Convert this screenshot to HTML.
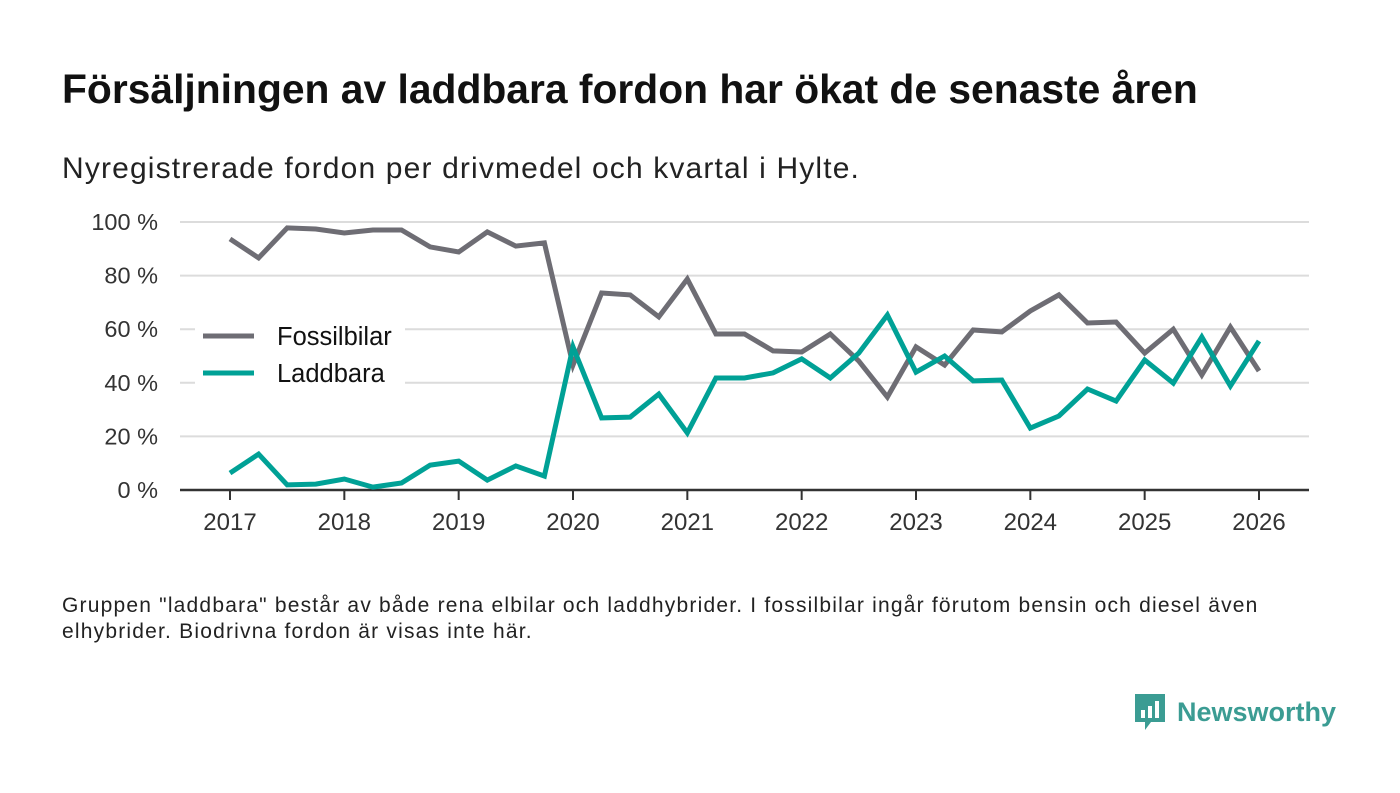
<!DOCTYPE html>
<html><head><meta charset="utf-8">
<style>
body{margin:0;background:#fff;font-family:"Liberation Sans","DejaVu Sans",sans-serif;}
#wrap{position:relative;width:1400px;height:793px;overflow:hidden;}
h1{position:absolute;left:62px;top:66px;margin:0;font-size:40.8px;font-weight:bold;color:#111;white-space:nowrap;}
.sub{position:absolute;left:62px;top:152px;font-size:30px;color:#222;white-space:nowrap;letter-spacing:1.15px;}
.note{position:absolute;left:62px;top:593px;font-size:21px;color:#222;line-height:26px;width:1215px;letter-spacing:1.2px;}
.logo{position:absolute;left:1133px;top:692px;display:flex;align-items:center;}
.logo span{font-size:27px;font-weight:bold;color:#3b9c93;margin-left:10px;}
</style></head><body>
<div id="wrap">
<h1>Försäljningen av laddbara fordon har ökat de senaste åren</h1>
<div class="sub">Nyregistrerade fordon per drivmedel och kvartal i Hylte.</div>
<svg id="chart" width="1400" height="793" style="position:absolute;left:0;top:0"></svg>
<div class="note">Gruppen "laddbara" består av både rena elbilar och laddhybrider. I fossilbilar ingår förutom bensin och diesel även elhybrider. Biodrivna fordon är visas inte här.</div>
<div class="logo">
<svg width="34" height="40" viewBox="0 0 34 40"><path d="M2 2h30v28H18l-6 8v-8H2z" fill="#3b9c93"/><rect x="8" y="18" width="4" height="8" fill="#fff"/><rect x="15" y="14" width="4" height="12" fill="#fff"/><rect x="22" y="9" width="4" height="17" fill="#fff"/></svg>
<span>Newsworthy</span></div>
</div>
<script>
const years=[2017,2018,2019,2020,2021,2022,2023,2024,2025,2026];
const yTicks=[0,20,40,60,80,100];
const fossil=[93.7,86.6,97.8,97.4,95.9,97,97,90.7,88.8,96.3,91,92.2,46.6,73.5,72.8,64.6,78.7,58.2,58.2,51.9,51.5,58.2,48.1,34.7,53.4,46.6,59.7,59,66.8,72.8,62.3,62.7,51.1,60,42.9,60.8,44.4];
const laddbara=[6.3,13.4,1.9,2.2,4.1,1.1,2.6,9.3,10.8,3.7,9,5.2,53.4,26.9,27.2,35.8,21.3,41.8,41.8,43.7,48.9,41.8,51.1,65.3,44,50,40.7,41,23.1,27.6,37.7,33.2,48.5,39.9,57.1,38.8,55.6];
const NS="http://www.w3.org/2000/svg";
const svg=document.getElementById('chart');
const x0=230,x1=1259,yb=490,yt=222,left=180,right=1309;
const xs=t=>x0+(t-2017)/(2026-2017)*(x1-x0);
const ys=v=>yb-v/100*(yb-yt);
function mk(tag,attrs){const e=document.createElementNS(NS,tag);for(const k in attrs)e.setAttribute(k,attrs[k]);svg.appendChild(e);return e;}
yTicks.forEach(v=>{
 if(v>0){const g=mk('line',{x1:left,x2:right,y1:ys(v),y2:ys(v),stroke:'#dcdcdc','stroke-width':2});
 
 }
 const t=mk('text',{x:158,y:ys(v)+8,'text-anchor':'end','font-size':23.5,fill:'#333','font-family':'Liberation Sans, sans-serif'});
 t.textContent=v+' %';
 
 
});
const ax=mk('line',{x1:left,x2:right,y1:yb,y2:yb,stroke:'#333','stroke-width':2.5});


years.forEach(yr=>{
 const tk=mk('line',{x1:xs(yr),x2:xs(yr),y1:yb,y2:yb+10,stroke:'#333','stroke-width':2});
 
 
 const t=mk('text',{x:xs(yr),y:530,'text-anchor':'middle','font-size':24,fill:'#333','font-family':'Liberation Sans, sans-serif'});
 t.textContent=yr;
 
 
});
const lg=mk('rect',{x:195,y:318,width:210,height:76,fill:'#fff'});


function series(arr,color,name){
 const pts=arr.map((v,i)=>xs(2017+i/4).toFixed(1)+','+ys(v).toFixed(1)).join(' ');
 const p=mk('polyline',{points:pts,fill:'none',stroke:color,'stroke-width':5,'stroke-linejoin':'miter'});
 
 
}
series(fossil,'#6e6d74','fossilbilar-line');
series(laddbara,'#00a196','laddbara-line');
[['Fossilbilar','#6e6d74',336],['Laddbara','#00a196',373]].forEach(([n,c,y])=>{
 const l=mk('line',{x1:203,x2:254,y1:y,y2:y,stroke:c,'stroke-width':5});
 
 
 const t=mk('text',{x:277,y:y+9,'font-size':25.5,fill:'#111','font-family':'Liberation Sans, sans-serif'});
 t.textContent=n;
 
 
});
</script>
</body></html>
